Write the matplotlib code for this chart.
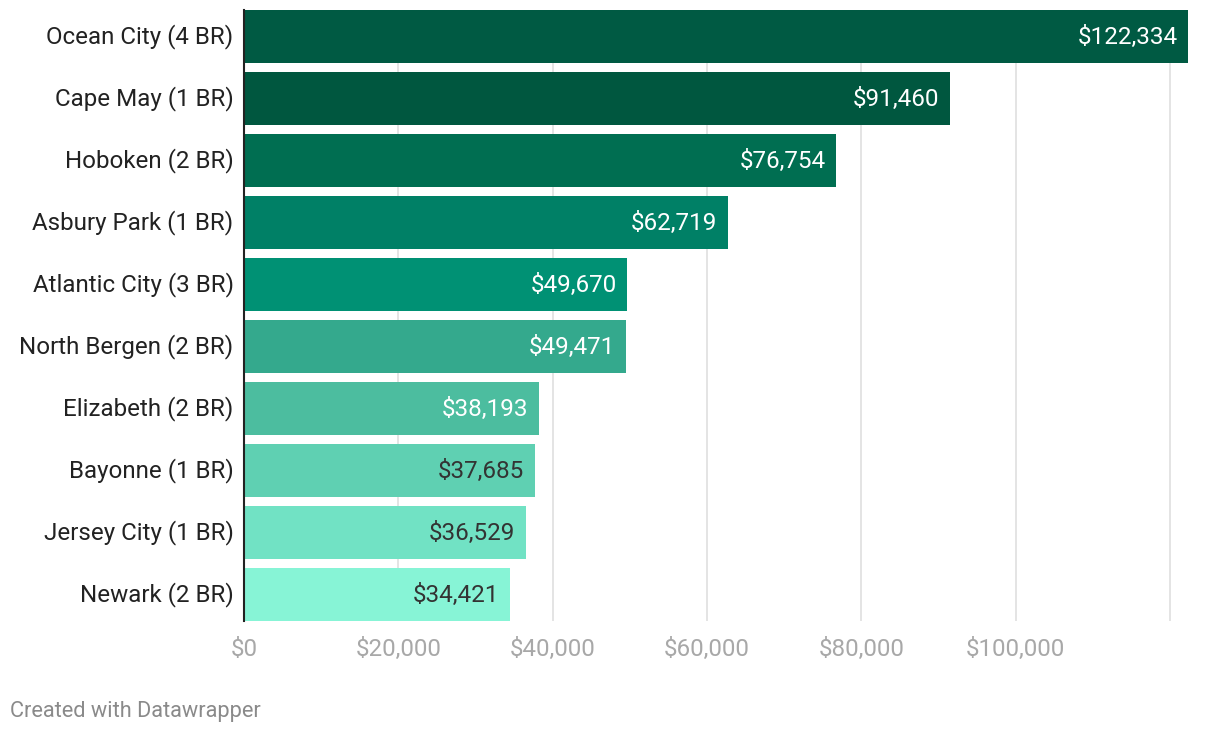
import matplotlib
matplotlib.use("Agg")
import matplotlib.pyplot as plt

categories = ["Ocean City (4 BR)", "Cape May (1 BR)", "Hoboken (2 BR)", "Asbury Park (1 BR)",
              "Atlantic City (3 BR)", "North Bergen (2 BR)", "Elizabeth (2 BR)", "Bayonne (1 BR)",
              "Jersey City (1 BR)", "Newark (2 BR)"]
values = [122334, 91460, 76754, 62719, 49670, 49471, 38193, 37685, 36529, 34421]
colors = ["#005a43", "#00573f", "#006e51", "#008066", "#009174", "#34a98d",
          "#4cbd9f", "#5fd0b2", "#71e2c4", "#87f4d6"]
label_colors = ["white"] * 7 + ["#333333"] * 3
xticks = [0, 20000, 40000, 60000, 80000, 100000, 120000]
xticklabels = ["$0", "$20,000", "$40,000", "$60,000", "$80,000", "$100,000", ""]

plt.rcParams['font.family'] = ['Roboto', 'DejaVu Sans']

W, H = 1220, 734
fig = plt.figure(figsize=(W / 100, H / 100), dpi=100)
left, right, top, bottom = 244, 1188, 10, 621
ax = fig.add_axes([left / W, 1 - bottom / H, (right - left) / W, (bottom - top) / H])

h = 0.855
ypos = list(range(len(categories)))
ax.barh(ypos, values, height=h, color=colors, zorder=2)
ax.set_ylim(len(categories) - 1 + h / 2, -h / 2)
ax.set_xlim(0, max(values))

for y, v, c in zip(ypos, values, label_colors):
    ax.annotate(f"${v:,}", xy=(v, y), xytext=(-7.5, -0.6), textcoords="offset points",
                ha="right", va="center", color=c, fontsize=17.5)

# category labels (left of axis), drawn at the library's y positions
ax.set_yticks(ypos)
ax.tick_params(axis="y", labelleft=False, length=0)
for y, cat in zip(ypos, categories):
    ax.annotate(cat, xy=(0, y), xytext=(-7.5, 0.2), textcoords="offset points",
                ha="right", va="center", color="#222222", fontsize=17.4,
                annotation_clip=False)

ax.set_xticks(xticks)
ax.set_xticklabels(xticklabels, fontsize=17.4, color="#a8a8a8")
ax.tick_params(axis="x", length=0, pad=12)
ax.grid(axis="x", color="#e2e2e2", linewidth=1.3, zorder=0)
ax.grid(axis="y", visible=False)
ax.set_axisbelow(True)
for s in ["top", "right", "bottom"]:
    ax.spines[s].set_visible(False)
ax.spines["left"].set_color("#222222")
ax.spines["left"].set_linewidth(1.5)
ax.spines["left"].set_zorder(3)

fig.text(10 / W, 1 - 711 / H, "Created with Datawrapper", fontsize=15.7, color="#8a8a8a",
         ha="left", va="center")

fig.savefig("out.png", dpi=100)
